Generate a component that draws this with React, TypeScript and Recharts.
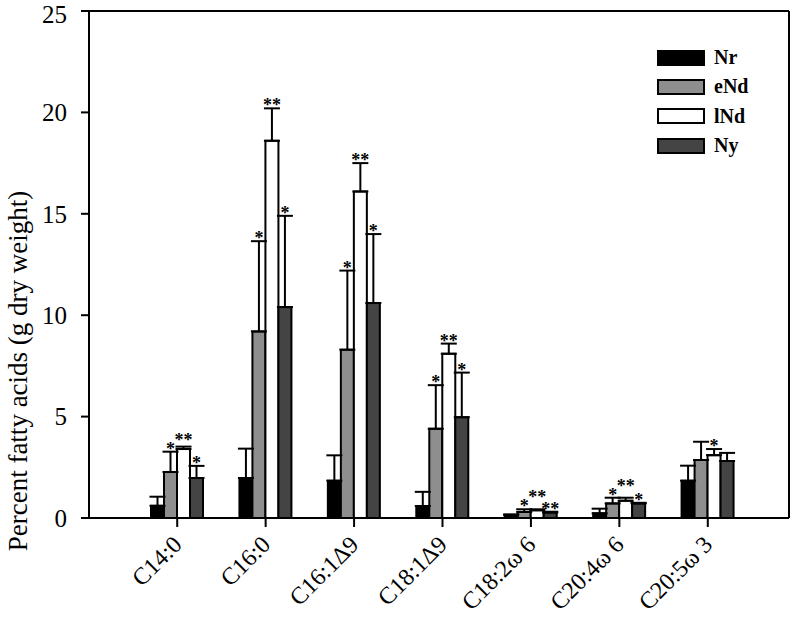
import React from "react";
import { Bar, BarChart, ErrorBar, LabelList, Legend, XAxis, YAxis } from "recharts";

const categories = ["C14:0", "C16:0", "C16:1Δ9", "C18:1Δ9", "C18:2ω 6", "C20:4ω 6", "C20:5ω 3"];

const nr = [0.6, 1.97, 1.84, 0.59, 0.15, 0.23, 1.84];
const nrErr = [0.45, 1.45, 1.25, 0.7, 0.03, 0.23, 0.74];
const nrStars = ["", "", "", "", "", "", ""];

const eNd = [2.27, 9.2, 8.3, 4.4, 0.3, 0.72, 2.86];
const eNdErr = [1.0, 4.45, 3.9, 2.15, 0.13, 0.28, 0.9];
const eNdStars = ["*", "*", "*", "*", "*", "*", ""];

const lNd = [3.4, 18.6, 16.1, 8.1, 0.38, 0.85, 3.1];
const lNdErr = [0.12, 1.6, 1.4, 0.5, 0.05, 0.15, 0.3];
const lNdStars = ["**", "**", "**", "**", "**", "**", "*"];

const ny = [1.97, 10.4, 10.6, 4.97, 0.27, 0.72, 2.81];
const nyErr = [0.6, 4.5, 3.4, 2.2, 0.04, 0.03, 0.4];
const nyStars = ["*", "*", "*", "*", "**", "*", ""];

const yTicks = [0, 5, 10, 15, 20, 25];

const FONT = "'Liberation Serif', 'Times New Roman', serif";

const series = [
    { key: "nr", name: "Nr", fill: "#000000", vals: nr, errs: nrErr, stars: nrStars },
    { key: "eNd", name: "eNd", fill: "#8e8e8e", vals: eNd, errs: eNdErr, stars: eNdStars },
    { key: "lNd", name: "lNd", fill: "#ffffff", vals: lNd, errs: lNdErr, stars: lNdStars },
    { key: "ny", name: "Ny", fill: "#444444", vals: ny, errs: nyErr, stars: nyStars },
];

const data = categories.map((name, i) => {
    const row: any = { name };
    series.forEach(s => {
        row[s.key] = s.vals[i];
        row[s.key + "Err"] = [0, s.errs[i]];
    });
    return row;
});

// y of the bottom of a star label; bumped up when it would collide with the neighbour's stars
const starBase = (k: number, i: number, baseY: number, ppu: number): number => {
    const s = series[k];
    let b = baseY - (s.vals[i] + s.errs[i]) * ppu;
    if (k > 0 && series[k - 1].stars[i]) {
        const prev = starBase(k - 1, i, baseY, ppu);
        if (Math.abs(b - prev) < 9) b = prev - 9;
    }
    return b;
};

const starLabel = (k: number) => (props: any) => {
    const { x, y, width, height, index } = props;
    const s = series[k];
    const txt = s.stars[index];
    if (!txt) return null;
    const ppu = height / s.vals[index];
    const b = starBase(k, index, y + height, ppu);
    return (
        <text x={x + width / 2} y={b + 3} textAnchor="middle" fontSize={18} fontWeight="bold" fontFamily={FONT} fill="#000">
            {txt}
        </text>
    );
};

const XTick = ({ x, y, payload }: any) => (
    <text x={x + 6} y={y + 17} textAnchor="end" fontSize={24} fontFamily={FONT} fill="#000"
        transform={`rotate(-45, ${x + 6}, ${y + 17})`}>
        {payload.value}
    </text>
);

const LegendBox = () => (
    <div style={{ fontFamily: FONT, fontWeight: "bold", fontSize: 20 }}>
        {series.map(s => (
            <div key={s.key} style={{ display: "flex", alignItems: "center", height: 29.3 }}>
                <div style={{ width: 44, height: 12, background: s.fill, border: "2px solid #000", marginRight: 9 }} />
                <span>{s.name}</span>
            </div>
        ))}
    </div>
);

export default function App() {
    return (
        <div style={{ position: "absolute", left: 0, top: 0, background: "#fff" }}>
            <BarChart width={797} height={620} data={data} barGap={0} barSize={13}
                margin={{ top: 10, right: 7, left: 29, bottom: 2 }}>
                <XAxis dataKey="name" height={100} padding={{ left: 44, right: 37 }}
                    axisLine={{ stroke: "#000", strokeWidth: 2 }}
                    tickLine={{ stroke: "#000", strokeWidth: 2 }} tickSize={9}
                    tick={<XTick />} interval={0} />
                <XAxis xAxisId="top" dataKey="name" orientation="top" height={1}
                    axisLine={{ stroke: "#000", strokeWidth: 2 }} tick={false} tickLine={false} />
                <YAxis domain={[0, 25]} ticks={yTicks} width={60} tickSize={8} tickMargin={14}
                    axisLine={{ stroke: "#000", strokeWidth: 2 }}
                    tickLine={{ stroke: "#000", strokeWidth: 2 }}
                    tick={{ fontSize: 25, fontFamily: FONT, fill: "#000" }}
                    label={() => (
                        <text x={27} y={371} textAnchor="middle" fontSize={27} fontFamily={FONT} fill="#000"
                            transform="rotate(-90, 27, 371)">
                            Percent fatty acids (g dry weight)
                        </text>
                    )} />
                <YAxis yAxisId="right" orientation="right" domain={[0, 25]} width={1}
                    axisLine={{ stroke: "#000", strokeWidth: 2 }} tick={false} tickLine={false} />
                <Legend layout="vertical" align="center" verticalAlign="middle" content={<LegendBox />}
                    wrapperStyle={{ position: "absolute", left: 657, top: 43, width: 120 }} />
                {series.map((s, k) => (
                    <Bar key={s.key} dataKey={s.key} name={s.name} fill={s.fill} stroke="#000" strokeWidth={2}
                        isAnimationActive={false}>
                        <ErrorBar dataKey={s.key + "Err"} direction="y" width={8} stroke="#000" strokeWidth={2}
                            isAnimationActive={false} />
                        <LabelList dataKey={s.key} content={starLabel(k)} />
                    </Bar>
                ))}
            </BarChart>
        </div>
    );
}
